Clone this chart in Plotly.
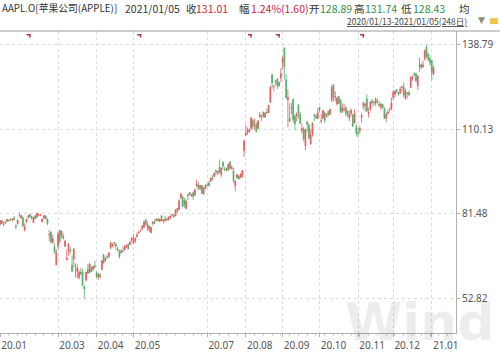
import plotly.graph_objects as go

# ---------------- data ----------------
trading_days = {
    "2020-01": [13, 14, 15, 16, 17, 21, 22, 23, 24, 27, 28, 29, 30, 31],
    "2020-02": [3, 4, 5, 6, 7, 10, 11, 12, 13, 14, 18, 19, 20, 21, 24, 25, 26, 27, 28],
    "2020-03": [2, 3, 4, 5, 6, 9, 10, 11, 12, 13, 16, 17, 18, 19, 20, 23, 24, 25, 26, 27, 30, 31],
    "2020-04": [1, 2, 3, 6, 7, 8, 9, 13, 14, 15, 16, 17, 20, 21, 22, 23, 24, 27, 28, 29, 30],
    "2020-05": [1, 4, 5, 6, 7, 8, 11, 12, 13, 14, 15, 18, 19, 20, 21, 22, 26, 27, 28, 29],
    "2020-06": [1, 2, 3, 4, 5, 8, 9, 10, 11, 12, 15, 16, 17, 18, 19, 22, 23, 24, 25, 26, 29, 30],
    "2020-07": [1, 2, 6, 7, 8, 9, 10, 13, 14, 15, 16, 17, 20, 21, 22, 23, 24, 27, 28, 29, 30, 31],
    "2020-08": [3, 4, 5, 6, 7, 10, 11, 12, 13, 14, 17, 18, 19, 20, 21, 24, 25, 26, 27, 28, 31],
    "2020-09": [1, 2, 3, 4, 8, 9, 10, 11, 14, 15, 16, 17, 18, 21, 22, 23, 24, 25, 28, 29, 30],
    "2020-10": [1, 2, 5, 6, 7, 8, 9, 12, 13, 14, 15, 16, 19, 20, 21, 22, 23, 26, 27, 28, 29, 30],
    "2020-11": [2, 3, 4, 5, 6, 9, 10, 11, 12, 13, 16, 17, 18, 19, 20, 23, 24, 25, 27, 30],
    "2020-12": [1, 2, 3, 4, 7, 8, 9, 10, 11, 14, 15, 16, 17, 18, 21, 22, 23, 24, 28, 29, 30, 31],
    "2021-01": [4, 5],
}
dates = [f"{m}-{d:02d}" for m, ds in trading_days.items() for d in ds]

opens = [
    77.91, 79.18, 77.96, 78.40, 79.07, 79.30, 79.64, 79.48, 80.06, 77.51, 78.15, 81.11, 80.14, 80.23,
    76.07, 78.83, 80.88, 80.64, 80.59, 78.54, 80.90, 80.37, 81.05, 81.18, 78.84, 80.00, 80.66, 79.65, 74.32, 75.24, 71.63, 70.28, 64.32,
    70.57, 75.92, 74.11, 73.88, 70.50, 65.94, 69.29, 69.35, 63.99, 66.22, 60.49, 61.88, 59.94, 61.85, 61.79, 57.02, 59.09, 62.69, 61.63, 63.19, 62.69, 63.90,
    61.63, 60.09, 60.70, 62.73, 67.70, 65.68, 67.18, 67.08, 70.00, 70.60, 71.85, 71.17, 69.49, 69.07, 68.40, 68.97, 69.30, 70.45, 71.27, 71.18, 72.49,
    71.56, 72.29, 73.76, 75.11, 75.81, 76.41, 77.03, 79.46, 78.04, 76.13, 75.09, 78.29, 78.76, 79.17, 79.67, 78.94, 80.88, 79.04, 79.19, 79.81,
    79.44, 80.19, 81.17, 81.10, 80.84, 82.56, 83.04, 86.98, 87.33, 86.18, 83.31, 87.86, 88.79, 87.85, 88.66, 87.83, 91.00, 91.25, 90.18, 91.10, 88.31, 90.02,
    91.28, 91.96, 92.50, 93.85, 94.18, 96.26, 95.34, 97.27, 94.84, 98.99, 96.56, 96.99, 96.42, 99.17, 96.69, 96.00, 90.99, 93.71, 94.37, 93.75, 94.19, 102.89,
    108.20, 109.13, 109.38, 110.41, 113.21, 112.60, 111.97, 110.50, 114.43, 114.83, 116.06, 114.35, 115.98, 115.75, 119.26, 128.70, 124.70, 126.18, 127.14, 126.01, 127.58,
    132.76, 137.59, 126.91, 120.07, 113.95, 117.26, 120.36, 114.57, 114.72, 118.33, 115.23, 109.72, 110.40, 104.54, 112.68, 111.62, 105.17, 108.43, 115.01, 114.55, 113.79,
    117.64, 112.89, 113.91, 115.70, 114.62, 116.25, 115.28, 120.06, 125.27, 121.00, 118.72, 121.28, 119.96, 116.20, 116.67, 117.45, 116.39, 114.01, 115.49, 115.05, 112.37, 111.06,
    109.11, 109.66, 114.14, 117.95, 118.32, 120.50, 115.55, 117.19, 119.62, 119.44, 118.92, 119.55, 118.61, 117.59, 118.64, 117.18, 113.91, 115.55, 116.57, 116.97,
    121.01, 122.02, 123.52, 122.60, 122.31, 124.37, 124.53, 120.50, 122.43, 122.60, 124.34, 127.41, 128.90, 128.96, 125.02, 131.61, 132.16, 131.32, 133.99, 138.05, 135.58, 134.08,
    133.52, 128.89,
]
highs = [
    79.27, 79.39, 78.88, 78.93, 79.68, 79.75, 79.99, 79.89, 80.83, 77.94, 79.60, 81.96, 81.02, 80.67,
    78.37, 79.91, 81.19, 81.31, 80.85, 80.39, 80.97, 81.81, 81.56, 81.50, 79.94, 81.14, 81.16, 80.11, 76.04, 75.63, 74.47, 71.50, 69.60,
    75.36, 76.00, 75.85, 74.89, 72.71, 69.52, 71.61, 70.31, 67.50, 69.98, 64.77, 64.40, 62.50, 63.21, 62.96, 57.13, 61.92, 64.56, 64.67, 63.97, 63.88, 65.62,
    62.18, 61.29, 61.43, 65.78, 67.93, 66.84, 67.52, 68.43, 72.06, 71.58, 72.05, 71.74, 70.42, 69.31, 69.48, 70.44, 70.75, 71.14, 71.46, 72.42, 73.63,
    74.75, 73.42, 75.25, 75.81, 76.29, 77.59, 79.26, 79.92, 78.99, 77.45, 76.97, 79.13, 79.63, 79.88, 80.22, 79.81, 81.06, 79.68, 80.86, 80.29,
    80.59, 80.86, 81.55, 81.40, 82.94, 83.40, 86.40, 88.69, 87.76, 86.95, 86.42, 88.30, 88.85, 88.36, 89.14, 89.86, 93.10, 92.20, 91.25, 91.33, 90.54, 91.50,
    91.84, 92.62, 93.95, 94.66, 95.38, 96.32, 95.98, 99.96, 97.26, 99.25, 97.40, 97.15, 98.50, 99.25, 97.97, 97.08, 92.97, 94.91, 94.55, 95.23, 96.30, 106.42,
    111.64, 110.79, 110.39, 114.41, 113.68, 113.78, 112.48, 113.28, 116.04, 115.00, 116.09, 116.00, 117.16, 118.39, 124.87, 128.79, 125.18, 126.99, 127.49, 126.44, 131.00,
    134.80, 137.98, 128.84, 123.70, 118.99, 119.14, 120.50, 115.23, 115.93, 118.83, 116.00, 112.20, 110.88, 110.19, 112.86, 112.11, 110.25, 112.44, 115.32, 115.31, 117.26,
    117.72, 115.37, 116.65, 116.12, 115.55, 116.40, 117.00, 125.18, 125.39, 123.03, 121.20, 121.55, 120.42, 118.98, 118.71, 118.04, 116.55, 116.55, 117.28, 115.43, 116.93, 111.99,
    110.68, 111.49, 115.59, 119.62, 119.20, 121.99, 117.59, 119.63, 120.53, 119.67, 120.99, 120.67, 119.82, 119.06, 118.77, 117.62, 115.85, 116.75, 117.49, 120.97,
    123.47, 123.37, 123.78, 122.86, 124.57, 124.98, 125.95, 123.87, 122.76, 123.35, 127.90, 128.37, 129.58, 129.10, 128.31, 134.41, 132.43, 133.46, 137.34, 138.79, 135.99, 134.74,
    133.61, 131.74,
]
lows = [
    77.79, 78.04, 77.39, 78.02, 78.75, 79.00, 79.33, 78.91, 79.38, 76.22, 77.89, 80.35, 79.69, 77.07,
    75.56, 78.41, 79.74, 80.07, 79.50, 78.46, 79.68, 80.37, 80.84, 80.71, 78.65, 80.00, 79.55, 77.63, 72.31, 71.53, 71.63, 68.24, 64.09,
    69.43, 71.45, 73.28, 72.85, 70.31, 65.75, 67.34, 67.96, 62.00, 63.24, 60.00, 59.60, 59.28, 60.65, 57.00, 52.82, 58.58, 61.08, 61.59, 61.76, 62.35, 63.00,
    59.78, 59.22, 59.74, 62.35, 64.75, 65.31, 66.18, 66.46, 69.51, 70.16, 70.59, 69.21, 69.21, 66.36, 68.05, 68.72, 69.25, 69.99, 69.55, 70.97, 72.09,
    71.46, 71.58, 73.61, 74.72, 75.49, 76.07, 76.81, 77.73, 75.80, 75.38, 75.05, 77.58, 78.25, 79.13, 78.97, 78.84, 79.13, 78.27, 78.91, 79.12,
    79.30, 79.73, 80.58, 80.20, 80.81, 81.83, 83.00, 86.52, 83.87, 83.56, 83.14, 86.18, 87.77, 87.31, 86.29, 87.79, 90.57, 89.63, 89.39, 88.25, 87.82, 90.00,
    90.98, 90.91, 92.47, 93.06, 94.09, 94.67, 94.71, 95.26, 93.88, 96.49, 95.91, 95.84, 96.06, 96.74, 96.60, 92.01, 89.14, 93.48, 93.25, 93.71, 93.77, 100.83,
    107.89, 108.39, 108.90, 109.80, 110.29, 110.00, 109.11, 110.30, 113.93, 113.04, 113.96, 114.01, 115.61, 115.73, 119.25, 123.94, 123.05, 125.08, 123.83, 124.58, 126.00,
    130.53, 127.00, 120.50, 110.89, 112.68, 115.26, 112.50, 110.00, 112.80, 113.61, 112.04, 108.71, 106.09, 103.10, 109.16, 106.77, 105.00, 107.67, 112.78, 113.57, 113.62,
    115.83, 112.22, 113.55, 112.25, 114.13, 114.59, 114.92, 119.28, 119.65, 119.62, 118.15, 118.81, 115.66, 115.63, 116.45, 114.59, 114.28, 112.88, 114.54, 111.10, 112.20, 107.72,
    107.32, 108.73, 112.35, 116.87, 116.13, 116.05, 114.13, 116.44, 118.57, 117.87, 118.15, 118.96, 118.00, 116.81, 117.29, 113.75, 112.59, 115.17, 116.22, 116.81,
    120.01, 120.89, 122.21, 121.52, 122.25, 123.09, 121.00, 120.15, 120.55, 121.54, 124.13, 126.56, 128.04, 126.12, 123.45, 129.65, 130.78, 131.10, 133.51, 134.34, 133.40, 131.72,
    126.76, 128.43,
]
closes = [
    79.24, 78.17, 77.83, 78.81, 79.68, 79.14, 79.43, 79.81, 79.58, 77.24, 79.42, 81.08, 80.97, 77.38,
    77.17, 79.71, 80.36, 81.30, 80.01, 80.39, 79.90, 81.80, 81.22, 81.24, 79.75, 80.90, 80.07, 78.26, 74.54, 72.02, 73.16, 68.38, 68.34,
    74.70, 72.33, 75.68, 73.23, 72.26, 66.54, 71.33, 68.86, 62.06, 69.49, 60.55, 63.22, 61.67, 61.20, 57.31, 56.09, 61.72, 61.38, 64.61, 61.94, 63.70, 63.57,
    60.23, 61.23, 60.35, 65.62, 64.86, 66.52, 67.00, 68.31, 71.76, 71.11, 71.67, 70.70, 69.23, 67.09, 69.03, 68.76, 70.74, 70.79, 69.64, 71.93, 73.45,
    72.27, 73.29, 74.39, 75.16, 75.93, 77.53, 78.75, 77.85, 76.91, 77.39, 76.93, 78.74, 78.29, 79.81, 79.21, 79.72, 79.18, 79.53, 79.56, 79.49,
    80.46, 80.83, 81.28, 80.58, 82.88, 83.36, 85.99, 88.21, 83.97, 84.70, 85.75, 88.02, 87.90, 87.93, 87.43, 89.72, 91.63, 90.01, 91.21, 88.41, 90.45, 91.20,
    91.03, 91.03, 93.46, 93.17, 95.34, 95.75, 95.92, 95.48, 97.06, 97.72, 96.52, 96.33, 98.36, 97.00, 97.27, 92.85, 92.62, 94.81, 93.25, 95.04, 96.19, 106.26,
    108.94, 109.67, 110.06, 113.90, 111.11, 112.73, 109.38, 113.01, 115.01, 114.91, 114.61, 115.56, 115.71, 118.28, 124.37, 125.86, 124.83, 126.52, 125.01, 124.81, 129.04,
    134.18, 131.40, 120.88, 120.96, 112.82, 117.32, 113.49, 112.00, 115.36, 115.54, 112.13, 110.34, 106.84, 110.08, 111.81, 107.12, 108.22, 112.28, 114.96, 114.09, 115.81,
    116.79, 113.02, 116.50, 113.16, 115.08, 114.97, 116.97, 124.40, 121.10, 121.19, 120.71, 119.02, 115.98, 117.51, 116.87, 115.75, 115.04, 115.05, 116.60, 111.20, 115.32, 108.86,
    108.77, 110.44, 114.95, 119.03, 118.69, 116.32, 115.97, 119.49, 119.21, 119.26, 120.30, 119.39, 118.03, 118.64, 117.34, 113.85, 115.17, 116.03, 116.59, 119.05,
    122.72, 123.08, 122.94, 122.25, 123.75, 124.38, 121.78, 123.24, 122.41, 121.78, 127.88, 127.81, 128.70, 126.66, 128.23, 131.88, 130.96, 131.97, 136.69, 134.87, 133.72, 132.69,
    129.41, 131.01,
]
assert len(dates) == len(opens) == len(highs) == len(lows) == len(closes) == 248

tick_months = ["2020-01", "2020-03", "2020-04", "2020-05", "2020-07", "2020-08",
               "2020-09", "2020-10", "2020-11", "2020-12", "2021-01"]
tick_labels = ["20.01", "20.03", "20.04", "20.05", "20.07", "20.08",
               "20.09", "20.10", "20.11", "20.12", "21.01"]
price_ticks = [52.82, 81.48, 110.13, 138.79]
event_dates = ["2020-02-07", "2020-05-08", "2020-08-07", "2020-08-31", "2020-11-06"]

header_parts = [
    ("AAPL.O[苹果公司(APPLE)]", "label", 0, 9.8),
    ("2021/01/05", "label", 123, 10.5),
    ("收", "label", 184, 10.5), ("131.01", "up", 194, 10.5),
    ("幅", "label", 237, 10.5), ("1.24%(1.60)", "up", 249, 10.5),
    ("开", "label", 307, 10.5), ("128.89", "down", 318, 10.5),
    ("高", "label", 352, 10.5), ("131.74", "down", 363, 10.5),
    ("低", "label", 399, 10.5), ("128.43", "down", 411, 10.5),
    ("均", "label", 457, 10.5),
]
range_text = "2020/01/13-2021/01/05(248日)"

# ---------------- figure ----------------
W, H = 500, 352
PL, PR, PT, PB = 0, 456, 31, 338
RED = "#e05a5e"
GREEN = "#55aa66"
colors = {"label": "#333333", "up": "#c8283c", "down": "#2f8f4f"}

idx = list(range(len(dates)))
tickvals = [next(i for i, d in enumerate(dates) if d.startswith(m)) for m in tick_months]


def px_x(x):
    return (x - PL) / (PR - PL)


def px_y(y):
    return (PB - y) / (PB - PT)


fig = go.Figure()
fig.add_trace(go.Candlestick(
    x=idx, open=opens, high=highs, low=lows, close=closes,
    increasing=dict(line=dict(color=RED, width=0.8), fillcolor=RED),
    decreasing=dict(line=dict(color=GREEN, width=0.8), fillcolor=GREEN),
    whiskerwidth=0, showlegend=False, hoverinfo="skip",
))

shapes = []
shapes.append(dict(type="line", xref="paper", yref="paper", x0=0, x1=W / PR, y0=1, y1=1,
                   line=dict(color="#9a9a9a", width=1)))
for d in event_dates:
    i = dates.index(d)
    shapes.append(dict(type="rect", xref="x", yref="paper", xsizemode="pixel", ysizemode="pixel",
                       xanchor=i, yanchor=1, x0=-5, x1=-1, y0=-4.5, y1=-3,
                       fillcolor="#c0304a", line=dict(width=0)))
    shapes.append(dict(type="rect", xref="x", yref="paper", xsizemode="pixel", ysizemode="pixel",
                       xanchor=i, yanchor=1, x0=-2.5, x1=-1, y0=-6.5, y1=-3,
                       fillcolor="#c0304a", line=dict(width=0)))
shapes.append(dict(type="rect", xref="paper", yref="paper", x0=px_x(490), x1=px_x(498),
                   y0=px_y(24), y1=px_y(18), fillcolor="#f2c44a", line=dict(width=0)))

annotations = []
for text, kind, x, fs in header_parts:
    annotations.append(dict(text=text, xref="paper", yref="paper", x=px_x(x), y=px_y(8),
                            xanchor="left", yanchor="middle", showarrow=False,
                            font=dict(family="Noto Sans CJK SC", size=fs, color=colors[kind])))
annotations.append(dict(text="<u>" + range_text + "</u>", xref="paper", yref="paper",
                        x=px_x(345), y=px_y(21), xanchor="left", yanchor="middle", showarrow=False,
                        font=dict(family="Noto Sans CJK SC", size=8.5, color="#444444")))
annotations.append(dict(text="▼", xref="paper", yref="paper", x=px_x(476), y=px_y(20),
                        xanchor="left", yanchor="middle", showarrow=False,
                        font=dict(family="DejaVu Sans", size=9, color="#8a8a8a")))
annotations.append(dict(text="<b>Wind</b>", xref="paper", yref="paper", x=px_x(343), y=px_y(359),
                        xanchor="left", yanchor="bottom", showarrow=False,
                        font=dict(family="DejaVu Sans", size=52, color="rgba(0,0,0,0.07)")))

fig.update_layout(
    width=W, height=H,
    margin=dict(l=PL, r=W - PR, t=PT, b=H - PB, pad=0),
    paper_bgcolor="white", plot_bgcolor="white",
    showlegend=False,
    shapes=shapes, annotations=annotations,
    xaxis=dict(
        range=[-0.06, 259.8], rangeslider=dict(visible=False),
        tickmode="array", tickvals=tickvals, ticktext=tick_labels,
        showgrid=True, gridcolor="#dcdcdc", griddash="dot", gridwidth=1,
        ticks="outside", ticklen=3, tickcolor="#b0b0b0",
        showline=True, linecolor="#b0b0b0", linewidth=1, zeroline=False,
        tickfont=dict(family="Noto Sans", size=10, color="#555555"),
        ticklabelshift=14,
        minor=dict(ticks="outside", ticklen=2, tickcolor="#cccccc", tickmode="linear",
                   tick0=0, dtick=5, showgrid=False),
    ),
    yaxis=dict(
        side="right", range=[41.16, 143.46],
        tickmode="array", tickvals=price_ticks, ticktext=[f"{v:.2f}" for v in price_ticks],
        showgrid=True, gridcolor="#dcdcdc", griddash="dot", gridwidth=1,
        ticks="outside", ticklen=3, tickcolor="#b0b0b0",
        showline=True, linecolor="#b0b0b0", linewidth=1, zeroline=False,
        tickfont=dict(family="Noto Sans", size=10, color="#555555"),
    ),
)

fig.write_html("out.html")
